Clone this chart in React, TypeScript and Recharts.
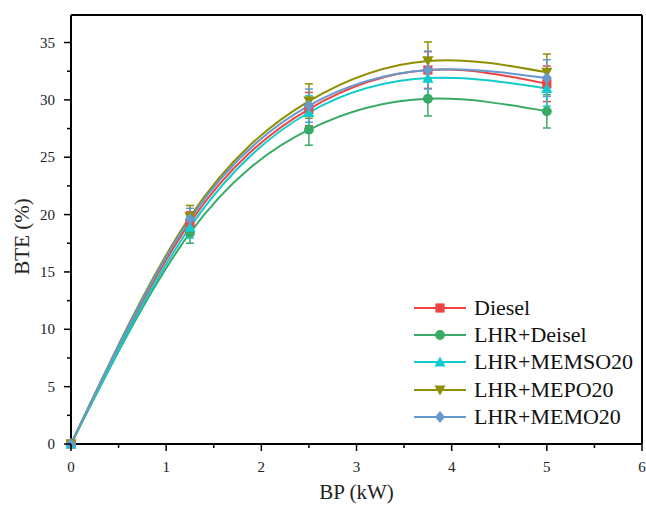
import React from 'react';
import {
  ComposedChart, Line, XAxis, YAxis, ErrorBar, ReferenceLine,
} from 'recharts';

const bp = [0, 1.25, 2.5, 3.75, 5];

const diesel = [0, 19.3, 29.2, 32.6, 31.4];
const dieselErr = [0, 0.95, 1.45, 1.6, 1.55];
const lhrDiesel = [0, 18.4, 27.4, 30.1, 29.0];
const lhrDieselErr = [0, 0.9, 1.35, 1.5, 1.45];
const memso = [0, 18.9, 28.9, 31.9, 31.0];
const memsoErr = [0, 0.95, 1.45, 1.6, 1.55];
const mepo = [0, 19.8, 29.9, 33.4, 32.4];
const mepoErr = [0, 1.0, 1.5, 1.65, 1.6];
const memo = [0, 19.6, 29.5, 32.6, 31.9];
const memoErr = [0, 0.95, 1.45, 1.65, 1.6];

const xTicks = [0, 0.5, 1, 1.5, 2, 2.5, 3, 3.5, 4, 4.5, 5, 5.5, 6];
const yTicks = [0, 2.5, 5, 7.5, 10, 12.5, 15, 17.5, 20, 22.5, 25, 27.5, 30, 32.5, 35];
const yMax = 37.4;

const series = [
  { key: 'diesel', name: 'Diesel', color: '#EE4444', shape: 'square' },
  { key: 'lhrDiesel', name: 'LHR+Deisel', color: '#38AA66', shape: 'circle' },
  { key: 'memso', name: 'LHR+MEMSO20', color: '#11CCCC', shape: 'up' },
  { key: 'mepo', name: 'LHR+MEPO20', color: '#8F8F00', shape: 'down' },
  { key: 'memo', name: 'LHR+MEMO20', color: '#6699CC', shape: 'diamond' },
];

const rows = bp.map((x, i) => ({
  bp: x,
  diesel: diesel[i], dieselErr: dieselErr[i],
  lhrDiesel: lhrDiesel[i], lhrDieselErr: lhrDieselErr[i],
  memso: memso[i], memsoErr: memsoErr[i],
  mepo: mepo[i], mepoErr: mepoErr[i],
  memo: memo[i], memoErr: memoErr[i],
}));

const FONT = '"Liberation Serif", "Times New Roman", serif';

function marker(shape: string, cx: number, cy: number, color: string, key?: any) {
  const s = 4.6;
  switch (shape) {
    case 'square':
      return <rect key={key} x={cx - s} y={cy - s} width={s * 2} height={s * 2} fill={color} />;
    case 'circle':
      return <circle key={key} cx={cx} cy={cy} r={s + 0.3} fill={color} />;
    case 'up':
      return <polygon key={key} points={`${cx},${cy - s - 1} ${cx + s + 1},${cy + s} ${cx - s - 1},${cy + s}`} fill={color} />;
    case 'down':
      return <polygon key={key} points={`${cx},${cy + s + 1} ${cx + s + 1},${cy - s} ${cx - s - 1},${cy - s}`} fill={color} />;
    default:
      return <polygon key={key} points={`${cx},${cy - s - 1.5} ${cx + s + 0.5},${cy} ${cx},${cy + s + 1.5} ${cx - s - 0.5},${cy}`} fill={color} />;
  }
}

const XTick = ({ x, y, payload }: any) => {
  const major = Number.isInteger(payload.value);
  return (
    <g>
      <line x1={x} y1={y} x2={x} y2={y + (major ? 7 : 4)} stroke="#000" strokeWidth={1.5} />
      {major && (
        <text x={x} y={y + 28} textAnchor="middle" fontSize={15} fontFamily={FONT} fill="#222">
          {payload.value}
        </text>
      )}
    </g>
  );
};

const YTick = ({ x, y, payload }: any) => {
  const major = payload.value % 5 === 0;
  return (
    <g>
      <line x1={x} y1={y} x2={x - (major ? 7 : 4)} y2={y} stroke="#000" strokeWidth={1.5} />
      {major && (
        <text x={x - 16} y={y + 5} textAnchor="end" fontSize={15} fontFamily={FONT} fill="#222">
          {payload.value}
        </text>
      )}
    </g>
  );
};

const ChartLegend = () => (
  <div style={{ position: 'absolute', left: 412, top: 294, fontFamily: FONT, fontSize: 22, color: '#111', lineHeight: 1 }}>
    {series.map((s) => (
      <div key={s.key} style={{ display: 'flex', alignItems: 'center', height: 27.4 }}>
        <svg width={58} height={20} style={{ marginRight: 4 }}>
          <line x1={2} y1={10} x2={54} y2={10} stroke={s.color} strokeWidth={2} />
          {marker(s.shape, 28, 10, s.color)}
        </svg>
        <span>{s.name}</span>
      </div>
    ))}
  </div>
);

export default function App() {
  return (
    <div style={{ position: 'absolute', left: 0, top: 0, width: 646, height: 505, background: '#fff' }}>
      <ComposedChart width={646} height={505} data={rows} margin={{ top: 15, right: 4, bottom: 0, left: 0 }}>
        <XAxis
          dataKey="bp"
          type="number"
          domain={[0, 6]}
          ticks={xTicks}
          interval={0}
          tickSize={0}
          tickMargin={0}
          tickLine={false}
          tick={<XTick />}
          height={61}
          axisLine={{ stroke: '#000', strokeWidth: 2 }}
          label={{
            content: ({ viewBox }: any) => (
              <text x={viewBox.x + viewBox.width / 2} y={viewBox.y + 55} textAnchor="middle" fontSize={21} fontFamily={FONT} fill="#222">
                BP (kW)
              </text>
            ),
          }}
        />
        <YAxis
          type="number"
          domain={[0, yMax]}
          ticks={yTicks}
          interval={0}
          tickSize={0}
          tickMargin={0}
          tickLine={false}
          tick={<YTick />}
          width={71}
          axisLine={{ stroke: '#000', strokeWidth: 2 }}
          label={{
            content: ({ viewBox }: any) => {
              const cx = viewBox.x + 22;
              const cy = viewBox.y + viewBox.height / 2 + 7;
              return (
                <text x={cx} y={cy} transform={`rotate(-90 ${cx} ${cy})`} textAnchor="middle" dominantBaseline="central" fontSize={21} fontFamily={FONT} fill="#222">
                  BTE (%)
                </text>
              );
            },
          }}
        />
        <ReferenceLine y={yMax} stroke="#000" strokeWidth={2} />
        <ReferenceLine x={6} stroke="#000" strokeWidth={2} />
        {series.map((s) => (
          <Line
            key={s.key}
            type="natural"
            dataKey={s.key}
            name={s.name}
            stroke={s.color}
            strokeWidth={2}
            isAnimationActive={false}
            dot={(p: any) => marker(s.shape, p.cx, p.cy, s.color, `${s.key}-${p.index}`)}
            activeDot={false}
          >
            <ErrorBar dataKey={`${s.key}Err`} direction="y" width={4} stroke={s.color} strokeWidth={1.5} />
          </Line>
        ))}
      </ComposedChart>
      <ChartLegend />
    </div>
  );
}
